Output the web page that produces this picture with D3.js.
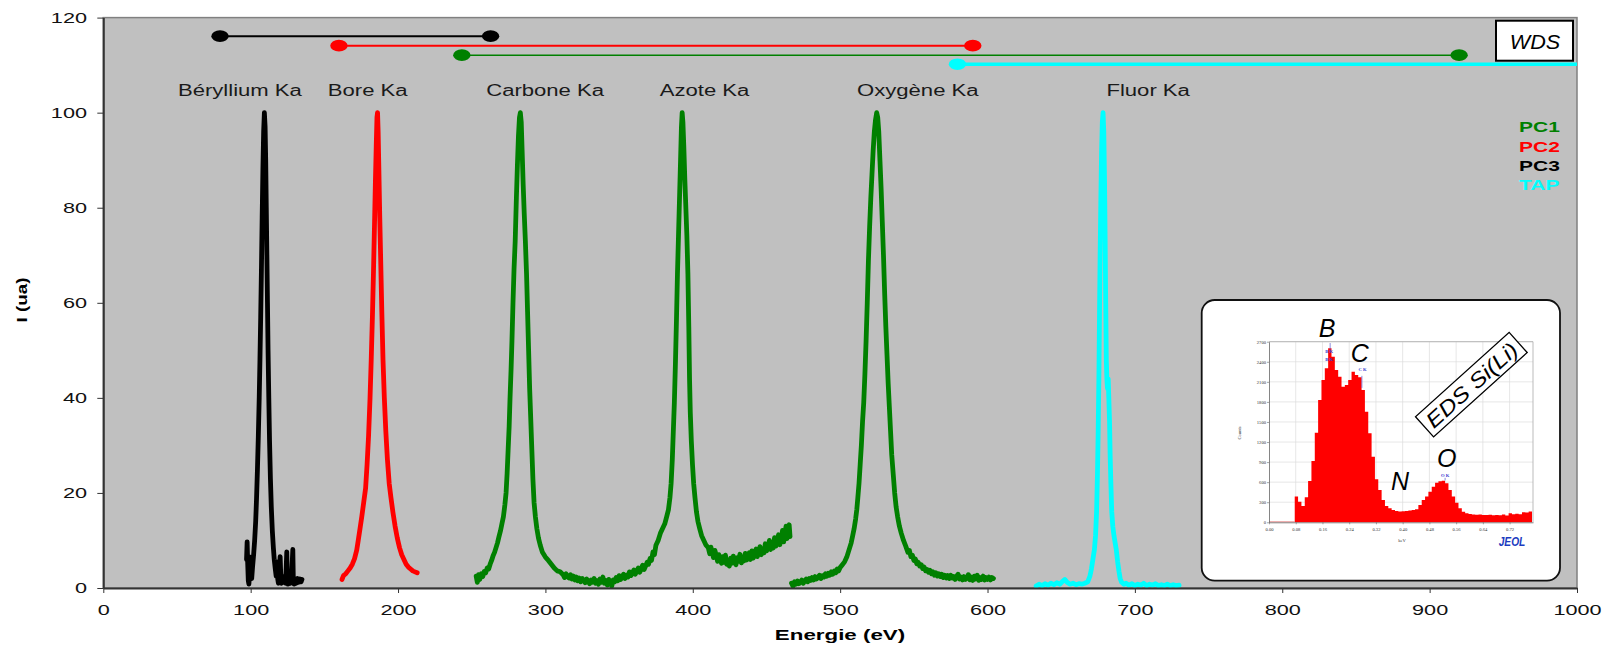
<!DOCTYPE html>
<html>
<head>
<meta charset="utf-8">
<script src="https://cdn.jsdelivr.net/npm/d3@7"></script>
<style>
body{margin:0;background:#fff;}
svg{display:block;font-family:"Liberation Sans",Arial,sans-serif;}
</style>
</head>
<body>
<div id="chart"></div>
<script>
// WDS spectra, [energy eV, intensity ua]
var beryllium = [[97.2,6],[97.6,9.7],[98,5],[98.4,1.5],[98.8,0.8],[99.3,3],[99.8,6.5],[100.2,3.5],[100.7,2],[101.3,4.5],[102,7],[102.7,10],[103.4,14],[104,19],[104.6,25],[105.2,32],[105.8,40],[106.3,48],[106.8,57],[107.3,67],[107.8,78],[108.3,88],[108.8,96],[109.3,100],[109.8,97],[110.2,90],[110.6,80],[111,70],[111.4,60],[111.8,50],[112.3,40],[112.8,31],[113.4,23],[114,17],[114.7,12],[115.4,8.5],[116,6],[116.7,4],[117.3,2.5],[117.8,5.5],[118.3,2],[118.8,1],[119.4,3.5],[120,6.6],[120.4,3],[120.9,1],[121.6,2],[122.3,1.2],[123,2.5],[123.7,1],[124.2,5],[124.5,7.6],[124.8,3],[125.4,0.8],[126.2,1.8],[127,1],[127.8,2.5],[128.3,6],[128.6,8.1],[128.9,2.5],[129.5,0.8],[130.3,1.8],[131,1],[131.8,2],[132.6,1.2],[133.4,1.9],[134.2,1.3],[134.8,1.8]];

var bore = [[162,1.8],[163,2.6],[164.5,3],[166,3.6],[167.5,4.2],[169,5],[170.5,6.2],[172,8],[173,10],[174.2,12.5],[175.4,15],[176.7,18],[178,21],[179,26],[180,32],[181,40],[181.8,48],[182.6,57],[183.3,66],[184,76],[184.6,85],[185.2,93],[185.7,99],[186.1,100],[186.5,96],[187,88],[187.6,78],[188.3,68],[189,58],[189.8,48],[190.7,40],[191.7,33],[192.8,27],[194,22],[195.2,19],[196.5,16],[198,13],[199.5,10.5],[201,8.5],[202.5,7],[204,6],[205.5,5],[207,4.4],[208.5,4],[210,3.6],[211.5,3.4],[213,3.2]];

var carboneAzote = [[253,2.5],[253.8,1.2],[254.6,2.8],[255.5,1.8],[256.5,3],[257.5,2.4],[258.5,3.5],[259.5,3.2],[260.5,4.2],[261.5,4],[262.5,5],[263.5,5.8],[264.5,6.8],[265.5,7.5],[266.5,8.5],[267.5,9.5],[268.5,10.8],[269.5,12],[270.5,13.5],[271.5,15],[272.5,17.5],[273.3,20],[274,24],[274.7,29],[275.4,34],[276,40],[276.7,46],[277.3,52],[278,60],[278.7,67],[279.5,73],[280.3,82],[281,89],[281.7,95],[282.4,99],[283,100],[283.6,98],[284.2,92],[284.9,85],[285.6,79],[286.4,73],[287.2,66],[287.9,58],[288.6,50],[289.3,42],[290,36],[290.8,29],[291.5,23],[292.3,18],[293.2,15],[294.2,12.5],[295.3,10.5],[296.5,9],[298,7.5],[300,6.5],[302,5.8],[304,5],[306,4.2],[308,3.6],[310,3.4],[312,2.8],[313,2.2],[314,3],[315,2.4],[316,2.1],[317,2.8],[318,1.9],[319,2.5],[320,1.7],[321,2.3],[322,1.5],[323,2.1],[324,1.3],[325,2],[326,1.6],[327,1.1],[328,1.9],[329,1.4],[330,0.9],[331,1.7],[332,1.2],[333,2],[334,1],[335,1.5],[336,0.8],[337,1.9],[338,1.2],[339,2.3],[340,1],[341,1.6],[342,0.6],[343,1.8],[344,1.1],[345,0.4],[346,1.7],[347,1.3],[348,2.2],[349,1.5],[350,2.6],[351,1.8],[352,2.2],[353,2.9],[354,2],[355,2.7],[356,2.3],[357,3.4],[358,2.6],[359,3.1],[360,3.8],[361,2.9],[362,3.5],[363,4.2],[364,3.3],[365,4],[366,4.8],[367,3.9],[368,4.6],[369,5.4],[370,5],[371,6.2],[372,5.8],[373,7.6],[374,7],[375,9],[376.5,10],[378,11.5],[379.5,12.5],[381,13.5],[382.3,15],[383.5,16.5],[384.5,19],[385.3,22],[386.1,27],[386.8,33],[387.5,39],[388.2,47],[388.9,56],[389.6,66],[390.3,74],[391,82],[391.7,90],[392.3,97],[392.8,100],[393.3,98],[393.9,93],[394.6,86],[395.3,80],[396,74],[396.7,66],[397.3,55],[397.8,44],[398.3,37],[399,31],[399.8,26],[400.6,22],[401.5,19],[402.5,16],[403.5,14],[404.7,12.5],[406,11],[407.5,10],[409,9],[410.5,8.5],[411.5,7.2],[412.3,8.6],[413.2,7.5],[414,6.4],[415,7.9],[416,6.8],[416.8,5.6],[417.7,7],[418.6,6.1],[419.5,5.2],[420.3,6.6],[421.2,5.4],[422.2,6.9],[423,5],[424,5.8],[424.8,4.6],[425.7,6.3],[426.6,5.2],[427.5,6.7],[428.4,5.5],[429.3,4.9],[430.2,6.4],[431,5.6],[432,7.1],[433,5.3],[433.8,6.2],[434.7,5.7],[435.6,7.3],[436.5,5.9],[437.4,6.5],[438.3,7.4],[439.2,6],[440.1,7.8],[441,6.3],[442,7.1],[443,8.2],[443.8,6.6],[444.7,7.5],[445.6,8.7],[446.5,7],[447.4,8.1],[448.3,7.4],[449.2,9.3],[450.1,7.8],[451,8.6],[452,10],[452.8,8.1],[453.7,9.2],[454.6,8.4],[455.5,10.6],[456.4,8.8],[457.3,9.8],[458.2,11.2],[459.1,9.1],[460,10.4],[460.9,12.1],[461.7,9.7],[462.5,11.5],[463.3,13],[464,10.4],[464.7,12.2],[465.4,13.3],[466,10.8]];

var oxygene = [[467,1],[468,0.4],[469,1.3],[470,0.8],[471,1.5],[472,0.9],[473,1.2],[474,1.7],[475,1],[476,1.5],[477,1.9],[478,1.3],[479,2],[480,1.6],[481,2.2],[482,1.7],[483,2.4],[484,1.9],[485,2.3],[486,2.7],[487,2],[488,2.6],[489,2.3],[490,3],[491,2.5],[492,3.1],[493,2.7],[494,3.4],[495,2.9],[496,3.6],[497,3.2],[498,4],[499,3.6],[500,4.3],[501.5,4.9],[503,5.5],[504.5,6.5],[505.5,7.5],[506.5,8.5],[507.5,9.5],[508.5,11],[509.5,12.5],[510.5,14.5],[511.3,16.5],[512,19],[512.8,22],[513.6,26],[514.4,30],[515.2,35],[516,39],[516.8,45],[517.6,52],[518.4,60],[519.2,69],[520,76],[520.8,82],[521.6,87],[522.4,92],[523.2,96],[524,98.5],[524.8,100],[525.5,99],[526.2,96],[527,90],[527.8,84],[528.6,77],[529.4,70],[530.2,62],[531,55],[531.8,49],[532.6,43],[533.4,38],[534.2,33],[535,28],[536,24],[537,20],[538,17],[539,15],[540.2,13],[541.5,11.5],[543,10],[544.5,8.8],[546,7.5],[547,7.9],[548,6.6],[549,6.9],[550,5.8],[551,6.1],[552,5.1],[553,5.4],[554,4.6],[555,4.9],[556,4.1],[557,4.4],[558,3.6],[559,3.9],[560,3.3],[561,3.7],[562,3],[563,3.4],[564,2.7],[565,3.2],[566,2.5],[567,3],[568,2.4],[569,2.9],[570,2.2],[571,2.7],[572,2.1],[573,2.6],[574,2],[575,2.7],[576,2.1],[577,2.4],[578,1.8],[579,2.5],[580,2.9],[581,1.9],[582,2.3],[583,1.7],[584,2.4],[585,1.8],[586,2.2],[587,2.8],[588,1.7],[589,2.3],[590,1.6],[591,2.5],[592,1.9],[593,2.7],[594,1.6],[595,2.2],[596,1.8],[597,2.5],[598,1.7],[599,2.2],[600,1.8],[601,2.3],[602,1.7],[603,2.2],[604,2]];

var fluor = [[633,0.4],[635,0.8],[637,0.5],[639,0.9],[641,0.6],[643,1],[645,0.7],[647,1.1],[649,0.8],[651,1.4],[652.5,1.8],[654,1.2],[656,0.8],[658,1],[660,0.7],[662,0.9],[664,0.8],[666,1],[668,1.3],[669.5,2.5],[670.5,4],[671.5,6],[672.5,8],[673.3,11],[674,16],[674.6,24],[675.1,33],[675.6,45],[676,58],[676.4,70],[676.9,82],[677.4,92],[677.9,98],[678.4,100],[678.9,96],[679.4,86],[679.8,74],[680.2,60],[680.6,48],[681,44],[681.4,42],[681.9,44],[682.3,40],[682.8,35],[683.2,28],[683.7,22],[684.3,16],[685,13],[685.8,11],[686.6,9.5],[687.4,8],[688.3,5.5],[689.2,3.5],[690,2],[691,1.2],[692.5,0.8],[694,1],[696,0.6],[698,0.9],[700,0.5],[702,0.8],[704,0.6],[706,1],[708,0.5],[710,0.8],[712,0.6],[714,0.9],[716,0.5],[718,0.7],[720,0.5],[722,0.8],[724,0.5],[726,0.7],[728,0.5],[730,0.6]];

var spectrumCrystal = ["PC3","PC2","PC1","PC1","TAP"];

// crystal energy ranges drawn at the top
var crystals = ["PC3","PC2","PC1","TAP"];
var rangeFrom = [79.2,159.9,243.3,579.6];
var rangeTo = [262.8,590,920,1000];
var rangeLevel = [116.1,114.1,112.1,110.2];

var peakNames = ["Béryllium Ka","Bore Ka","Carbone Ka","Azote Ka","Oxygène Ka","Fluor Ka"];
var peakLabelE = [92.7,179.4,299.8,408,552.7,709];
var peakLabelLevel = 103.5;

var legendNames = ["PC1","PC2","PC3","TAP"];
var xTicks = [0,100,200,300,400,500,600,700,800,900,1000];
var yTicks = [0,20,40,60,80,100,120];

// EDS Si(Li) inset: histogram counts, bins of 0.01 keV from 0.077 keV
var edsStart = 0.077, edsBin = 0.01;
var edsCounts = [384,309,244,374,618,917,1340,1829,2128,2302,2601,2476,2277,2177,2028,2053,2128,2252,2202,2167,1978,1654,1330,981,643,483,334,244,209,185,170,160,165,170,175,185,195,259,334,384,458,533,590,615,623,583,483,384,294,209,159,135,125,118,112,115,110,108,112,105,110,104,118,102,135,122,128,120,150,145,160];
var edsTicksX = [0,0.08,0.16,0.24,0.32,0.40,0.48,0.56,0.64,0.72];
var edsTicksY = [0,300,600,900,1200,1500,1800,2100,2400,2700];
var edsLetters = ["B","C","N","O"];
var edsLetterKeV = [0.174,0.272,0.392,0.532];
var edsLetterCounts = [2770,2400,483,830];
var edsLineKeV = [0.183,0.278,0.527];
var edsLineTop = [2680,2190,665];
var edsLineBottom = [2550,2010,625];
var edsTags = ["B K","B K","C K","O K"];
var edsTagKeV = [0.18,0.18,0.28,0.527];
var edsTagCounts = [2530,2410,2260,680];

var colors = {PC1:"#008000", PC2:"#ff0000", PC3:"#000000", TAP:"#00ffff"};

var W = 1606, H = 647;
var svg = d3.select("#chart").append("svg").attr("width",W).attr("height",H);
svg.append("rect").attr("width",W).attr("height",H).attr("fill","#fff");

var x = d3.scaleLinear().domain([0,1000]).range([103.3,1577]);
var y = d3.scaleLinear().domain([0,120]).range([588,17.6]);

// stretch text horizontally (the original figure is widened)
function stretch(sel,k){
  sel.each(function(){
    var t = d3.select(this);
    var tx = +t.attr("x")||0, ty = +t.attr("y")||0;
    t.attr("x",0).attr("y",0)
     .attr("transform","translate("+tx+","+ty+") scale("+k+",1)");
  });
}

svg.append("rect")
  .attr("x",x(0)).attr("y",y(120))
  .attr("width",x(1000)-x(0)).attr("height",y(0)-y(120))
  .attr("fill","#c0c0c0").attr("stroke","#808080").attr("stroke-width",1.5);

svg.append("clipPath").attr("id","plotclip")
  .append("rect").attr("x",x(0)).attr("y",y(120))
  .attr("width",x(1000)-x(0)).attr("height",y(0)-y(120));

var plot = svg.append("g").attr("clip-path","url(#plotclip)");

// axes
var yAxis = svg.append("g").attr("transform","translate("+x(0)+",0)")
  .call(d3.axisLeft(y).tickValues(yTicks).tickSize(6).tickSizeOuter(0).tickFormat(d3.format("d")));
var xAxis = svg.append("g").attr("transform","translate(0,"+y(0)+")")
  .call(d3.axisBottom(x).tickValues(xTicks).tickSize(5).tickSizeOuter(0).tickPadding(11).tickFormat(d3.format("d")));
[yAxis,xAxis].forEach(function(a){
  a.select(".domain").attr("stroke","#333").attr("stroke-width",2);
  a.selectAll(".tick line").attr("stroke","#333");
  a.selectAll("text").attr("font-size",15.5).attr("fill","#111")
   .attr("font-family","'Liberation Sans',Arial,sans-serif");
});
yAxis.selectAll("text").attr("x",-11.6).attr("transform","scale(1.4,1)");
xAxis.selectAll("text").attr("transform","scale(1.4,1)");

// axis titles
svg.append("text").attr("x",840).attr("y",640).attr("text-anchor","middle")
  .attr("font-size",15).attr("font-weight","bold").text("Energie (eV)")
  .call(stretch,1.49);
svg.append("text").attr("transform","translate(27,300) rotate(-90) scale(1.25,1)")
  .attr("text-anchor","middle").attr("font-size",15).attr("font-weight","bold")
  .text("I (ua)");

// crystal ranges
crystals.forEach(function(c,i){
  var lw = c=="TAP" ? 3.5 : (c=="PC1" ? 1.5 : 2);
  plot.append("line")
    .attr("x1",x(rangeFrom[i])).attr("x2",x(rangeTo[i]))
    .attr("y1",y(rangeLevel[i])).attr("y2",y(rangeLevel[i]))
    .attr("stroke",colors[c]).attr("stroke-width",lw);
  var ends = [rangeFrom[i]];
  if(rangeTo[i] < 1000) ends.push(rangeTo[i]);
  ends.forEach(function(e){
    plot.append("ellipse").attr("cx",x(e)).attr("cy",y(rangeLevel[i]))
      .attr("rx",8.7).attr("ry",5.8).attr("fill",colors[c]);
  });
});

// spectra
var line = d3.line().x(function(d){return x(d[0]);}).y(function(d){return y(d[1]);});
[beryllium,bore,carboneAzote,oxygene,fluor].forEach(function(s,i){
  plot.append("path").datum(s).attr("d",line)
    .attr("fill","none").attr("stroke",colors[spectrumCrystal[i]])
    .attr("stroke-width",4.8).attr("stroke-linejoin","round").attr("stroke-linecap","round");
});

// peak labels
peakNames.forEach(function(n,i){
  svg.append("text").attr("x",x(peakLabelE[i])).attr("y",y(peakLabelLevel))
    .attr("text-anchor","middle").attr("font-size",16).attr("fill","#1a1a1a")
    .text(n).call(stretch,1.38);
});

// legend
legendNames.forEach(function(n,i){
  svg.append("text").attr("x",1519).attr("y",132.3+i*19.3)
    .attr("font-size",15).attr("font-weight","bold").attr("fill",colors[n])
    .text(n).call(stretch,1.4);
});

// WDS box
svg.append("rect").attr("x",1496).attr("y",20.7).attr("width",77).attr("height",40)
  .attr("fill","#fff").attr("stroke","#000").attr("stroke-width",2);
svg.append("text").attr("x",1535).attr("y",48.5).attr("text-anchor","middle")
  .attr("font-size",20).attr("font-style","italic").text("WDS").call(stretch,1.08);

// EDS inset
var inset = svg.append("g");
inset.append("rect").attr("x",1201.7).attr("y",300).attr("width",358.3).attr("height",280.7)
  .attr("rx",13).attr("fill","#fff").attr("stroke","#111").attr("stroke-width",1.8);

var xE = d3.scaleLinear().domain([0,0.79]).range([1269,1533]);
var yE = d3.scaleLinear().domain([0,2700]).range([522.3,341.7]);

inset.selectAll(".hgrid").data(edsTicksY.slice(1)).enter().append("line")
  .attr("x1",xE(0)).attr("x2",xE(0.79)).attr("y1",function(d){return yE(d);}).attr("y2",function(d){return yE(d);})
  .attr("stroke","#dcdcdc").attr("stroke-width",0.7);
inset.selectAll(".vgrid").data(edsTicksX.slice(1)).enter().append("line")
  .attr("x1",function(d){return xE(d);}).attr("x2",function(d){return xE(d);}).attr("y1",yE(0)).attr("y2",yE(2700))
  .attr("stroke","#dcdcdc").attr("stroke-width",0.7);
inset.append("path").attr("d","M"+xE(0)+","+yE(2700)+"H"+xE(0.79)+"V"+yE(0))
  .attr("fill","none").attr("stroke","#aaa").attr("stroke-width",0.8);

var bins = edsCounts.map(function(c,i){return [edsStart+i*edsBin,c];});
bins.push([edsStart+edsCounts.length*edsBin, edsCounts[edsCounts.length-1]]);
inset.append("path").datum(bins)
  .attr("d",d3.area().curve(d3.curveStepAfter)
    .x(function(d){return xE(d[0]);}).y0(yE(0)).y1(function(d){return yE(d[1]);}))
  .attr("fill","#ff0000");
inset.append("line").attr("x1",xE(0)).attr("x2",xE(edsStart)).attr("y1",yE(0)-0.5).attr("y2",yE(0)-0.5)
  .attr("stroke","#e07070").attr("stroke-width",0.8);

var yEAxis = inset.append("g").attr("transform","translate("+xE(0)+",0)")
  .call(d3.axisLeft(yE).tickValues(edsTicksY).tickSize(2).tickPadding(1).tickSizeOuter(0).tickFormat(d3.format("d")));
var xEAxis = inset.append("g").attr("transform","translate(0,"+yE(0)+")")
  .call(d3.axisBottom(xE).tickValues(edsTicksX).tickSize(2).tickPadding(3).tickSizeOuter(0).tickFormat(d3.format(".2f")));
[yEAxis,xEAxis].forEach(function(a){
  a.select(".domain").attr("stroke","#666").attr("stroke-width",0.8);
  a.selectAll(".tick line").attr("stroke","#666").attr("stroke-width",0.6);
  a.selectAll("text").attr("font-size",4.6).attr("font-family","'Liberation Serif',serif").attr("fill","#333");
});
inset.append("text").attr("transform","translate(1241,433) rotate(-90)").attr("text-anchor","middle")
  .attr("font-size",4.6).attr("font-family","'Liberation Serif',serif").attr("fill","#333").text("Counts");
inset.append("text").attr("x",1402).attr("y",542).attr("text-anchor","middle")
  .attr("font-size",4.6).attr("font-family","'Liberation Serif',serif").attr("fill","#333").text("keV");

// element markers
edsLineKeV.forEach(function(k,i){
  inset.append("line").attr("x1",xE(k)).attr("x2",xE(k)).attr("y1",yE(edsLineTop[i])).attr("y2",yE(edsLineBottom[i]))
    .attr("stroke","#5a5ad0").attr("stroke-width",0.7);
});
edsTags.forEach(function(t,i){
  inset.append("text").attr("x",xE(edsTagKeV[i])).attr("y",yE(edsTagCounts[i])).attr("text-anchor","middle")
    .attr("font-size",4.6).attr("font-weight","bold").attr("font-family","'Liberation Serif',serif")
    .attr("fill","#3a3ad0").text(t);
});

edsLetters.forEach(function(l,i){
  inset.append("text").attr("x",xE(edsLetterKeV[i])).attr("y",yE(edsLetterCounts[i]))
    .attr("text-anchor","middle").attr("font-size",25).attr("font-style","italic").attr("fill","#000")
    .text(l);
});

var eds = inset.append("g").attr("transform","translate(1471.7,385) rotate(-42)");
eds.append("rect").attr("x",-63).attr("y",-14).attr("width",126).attr("height",27)
  .attr("fill","#fff").attr("stroke","#000").attr("stroke-width",1.3);
eds.append("text").attr("x",0).attr("y",7.5).attr("text-anchor","middle")
  .attr("font-size",21).attr("font-style","italic").text("EDS Si(Li)").call(stretch,1.18);

inset.append("text").attr("x",1512).attr("y",546).attr("text-anchor","middle")
  .attr("font-size",12).attr("font-weight","bold").attr("font-style","italic").attr("fill","#1c3cc0")
  .text("JEOL").call(stretch,0.85);
</script>
</body>
</html>
